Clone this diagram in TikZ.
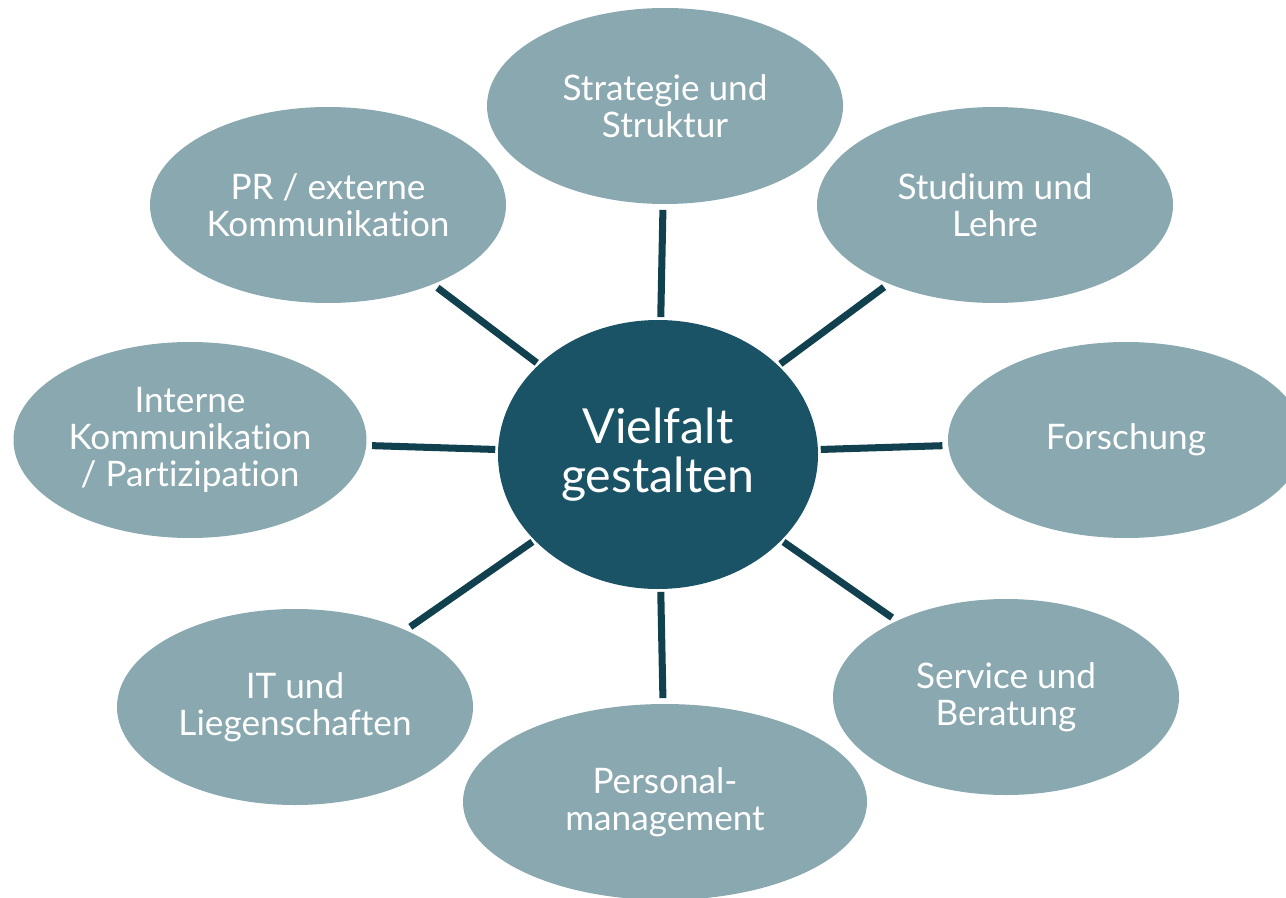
\documentclass[tikz,border=0pt]{standalone}
\usepackage{fontspec}
\setmainfont{Lato}[Ligatures=NoCommon]
\usepackage{xcolor}
\definecolor{hubfill}{HTML}{1A5366}
\definecolor{topicfill}{HTML}{8AA8B0}
\definecolor{linkcol}{HTML}{11404E}
\tikzset{
  hub/.style={ellipse, fill=hubfill, text=white, inner sep=0pt, minimum width=6.40cm, minimum height=5.38cm, align=center, font=\fontsize{27.5}{27.5}\selectfont},
  topic/.style={ellipse, fill=topicfill, text=white, inner sep=0pt, minimum width=7.12cm, minimum height=3.92cm, align=center, font=\fontsize{20}{21}\selectfont},
  link/.style={draw=linkcol, line width=4pt, shorten <=0.05cm, shorten >=0.11cm}
}
\usetikzlibrary{shapes.geometric}
\begin{document}
\begin{tikzpicture}
		\useasboundingbox (0,0) rectangle (25.72,17.94);

		\node[hub] (hub) at (13.16,8.85) {Vielfalt\\gestalten};

		\node[topic] (strat) at (13.30,15.82) {Strategie und\\Struktur};
		\node[topic] (lehre) at (19.90,13.84) {Studium und\\Lehre};
		\node[topic] (forsch) at (22.52,9.14) {Forschung};
		\node[topic, minimum width=6.92cm] (service) at (20.12,4.00) {Service und\\Beratung};
		\node[topic, minimum width=8.08cm] (personal) at (13.30,1.90) {Personal-\\management};
		\node[topic] (it) at (5.90,3.80) {IT und\\Liegenschaften};
		\node[topic, minimum width=7.06cm] (intern) at (3.80,9.14) {Interne\\Kommunikation\\/ Partizipation};
		\node[topic] (pr) at (6.56,13.84) {PR / externe\\Kommunikation};

		\draw[link] (hub) -- (strat);
		\draw[link] (hub) -- (lehre);
		\draw[link] (hub) -- (forsch);
		\draw[link] (hub) -- (service);
		\draw[link] (hub) -- (personal);
		\draw[link] (hub) -- (it);
		\draw[link] (hub) -- (intern);
		\draw[link] (hub) -- (pr);
	\end{tikzpicture}
\end{document}
